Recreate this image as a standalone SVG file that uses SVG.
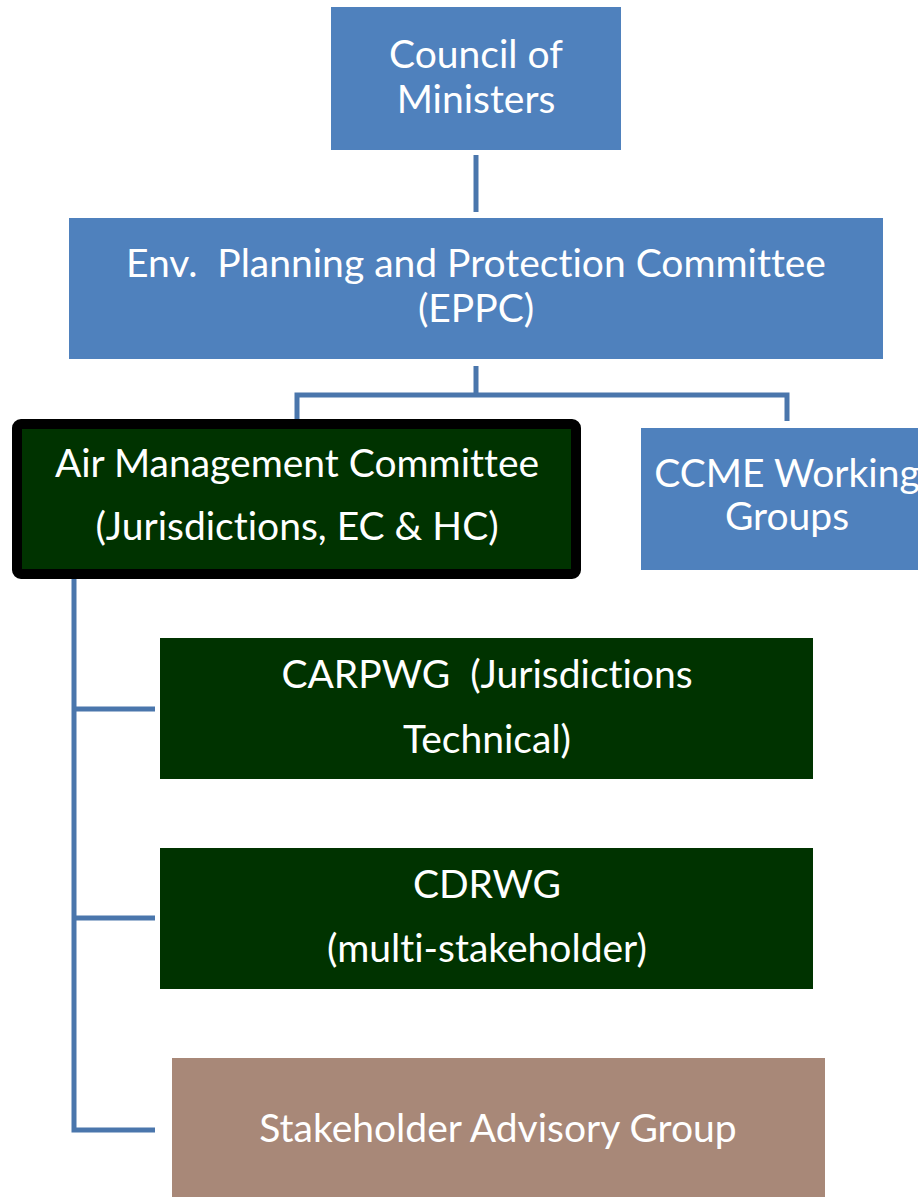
<svg xmlns="http://www.w3.org/2000/svg" width="918" height="1197" viewBox="0 0 918 1197">
<style>
.blue{fill:#4F81BD}
.green{fill:#003300}
.brown{fill:#A88878}
.t{font-family:Lato,"Open Sans",sans-serif;font-size:39px;fill:#FFFFFF;text-anchor:middle;font-variant-ligatures:none;font-feature-settings:"liga" 0}
.c{stroke:#4A76AC;stroke-width:5;fill:none}
</style>
<rect width="918" height="1197" fill="#FFFFFF"/>
<g id="connectors">
<path class="c" d="M476 155V212"/>
<path class="c" d="M476 366V395M297 420V395H787V421"/>
<path class="c" d="M74 578V1130H155M74 709H155M74 918H155"/>
</g>
<g id="council">
<rect class="blue" x="331" y="7" width="290" height="143"/>
<text class="t" x="476" y="68">Council of</text>
<text class="t" x="476" y="113">Ministers</text>
</g>
<g id="eppc">
<rect class="blue" x="69" y="218" width="814" height="141"/>
<text class="t" x="476" y="277" xml:space="preserve">Env.  Planning and Protection Committee</text>
<text class="t" x="476" y="322">(EPPC)</text>
</g>
<g id="amc">
<rect x="17" y="424" width="559" height="150" rx="4" fill="#003300" stroke="#000000" stroke-width="10"/>
<text class="t" x="297" y="477">Air Management Committee</text>
<text class="t" x="297" y="540">(Jurisdictions, EC &amp; HC)</text>
</g>
<g id="ccme">
<rect class="blue" x="641" y="428" width="277" height="142"/>
<text class="t" x="787" y="487">CCME Working</text>
<text class="t" x="787" y="530">Groups</text>
</g>
<g id="carpwg">
<rect class="green" x="160" y="638" width="653" height="141"/>
<text class="t" x="487" y="688" xml:space="preserve">CARPWG  (Jurisdictions</text>
<text class="t" x="487" y="753">Technical)</text>
</g>
<g id="cdrwg">
<rect class="green" x="160" y="848" width="653" height="141"/>
<text class="t" x="487" y="898">CDRWG</text>
<text class="t" x="487" y="962">(multi-stakeholder)</text>
</g>
<g id="sag">
<rect class="brown" x="172" y="1058" width="653" height="139"/>
<text class="t" x="498" y="1142">Stakeholder Advisory Group</text>
</g>
</svg>
